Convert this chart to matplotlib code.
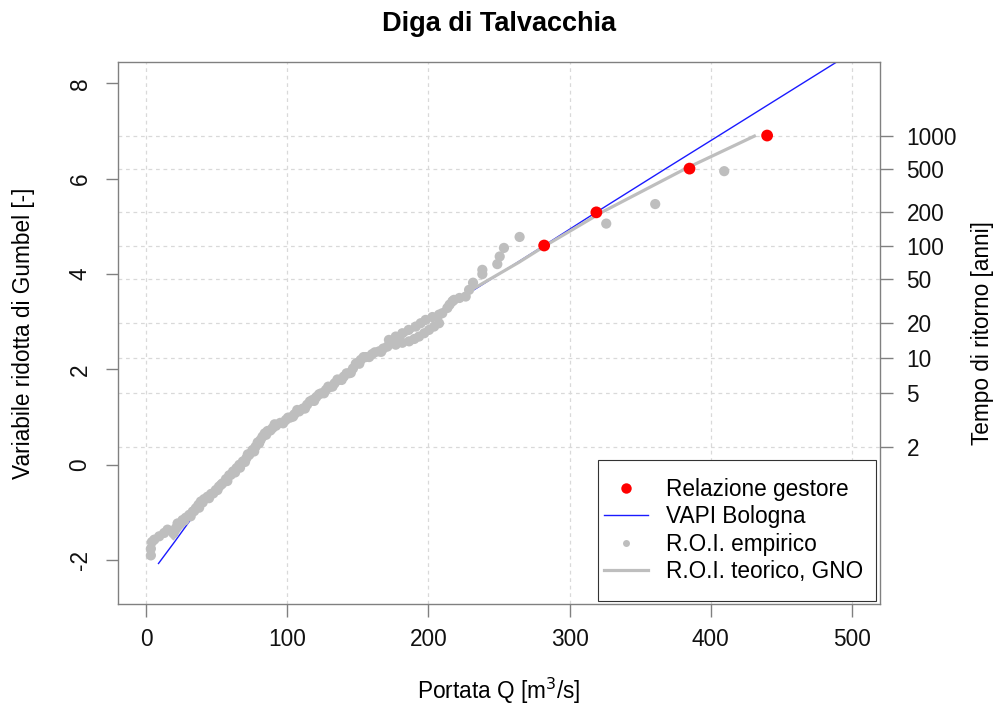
import numpy as np
import matplotlib
matplotlib.use("Agg")
import matplotlib.pyplot as plt
from matplotlib.lines import Line2D
from matplotlib.patches import Rectangle

plt.rcParams['font.family'] = ['Liberation Sans', 'DejaVu Sans']
plt.rcParams['axes.unicode_minus'] = False

# Portate di progetto della relazione del gestore, per tempo di ritorno [anni]
T_gestore = [100, 200, 500, 1000]
Q_gestore = [282, 319, 385, 440]

# Curva di crescita VAPI Bologna: portata [m3/s] e variabile ridotta di Gumbel
Q_vapi = [8.7, 20.0, 30.5, 41.0, 55.0, 70.0, 85.0, 100.0, 117.6, 135.0, 150.0,
          170.0, 200.0, 236.0, 282.0, 319.0, 368.0, 406.0, 492.0]
y_vapi = [-2.07, -1.62, -1.19, -0.78, -0.30, 0.15, 0.58, 1.00, 1.40, 1.80, 2.12,
          2.54, 3.08, 3.74, 4.60, 5.30, 6.21, 6.91, 8.50]

# Curva teorica R.O.I. (distribuzione GNO)
Q_gno = [18.6, 30.0, 45.0, 66.0, 85.0, 100.0, 120.0, 140.0, 160.0, 180.0,
         200.0, 215.0, 228.8, 264.2, 283.0, 323.0, 382.0, 432.0]
y_gno = [-1.57, -1.10, -0.62, 0.00, 0.62, 0.96, 1.42, 1.85, 2.30, 2.66,
         3.02, 3.30, 3.64, 4.25, 4.60, 5.30, 6.21, 6.91]

# Campione empirico R.O.I.: portata e variabile ridotta (posizione di plotting)
Q_emp = [3.3, 3.3, 4.0, 5.7, 9.2, 12.7, 15.1,
         19.3, 21.0, 22.2, 25.7, 28.0, 30.5, 33.0, 35.2, 37.0, 38.7, 41.0, 43.4,
         46.0, 49.3, 51.5, 54.0, 56.5, 58.8, 61.5, 64.0, 66.0, 68.5, 71.0, 73.0,
         75.3, 77.5, 80.0, 82.4, 84.0, 86.0, 89.5, 92.0, 95.0, 98.9, 102.0, 105.0,
         108.4, 111.0, 114.0, 117.8, 120.5, 124.0, 127.3, 130.0, 133.5, 136.7,
         140.0, 143.8, 146.5, 149.7, 152.0, 155.6, 160.0, 165.0, 168.0,
         170.9, 172.0, 176.8, 176.8, 181.5, 181.5, 186.0, 186.3, 190.0, 191.0,
         193.3, 194.5, 197.0, 198.0, 200.4, 202.8, 204.0, 207.5, 207.5, 209.8,
         213.4, 215.0, 217.0, 218.1, 222.0, 226.4, 228.8, 231.6, 238.2, 238.2,
         248.8, 250.5, 253.5, 264.6, 326.0, 360.7, 409.6,
         24.0, 27.0, 31.5, 34.0, 37.5, 40.0, 44.5, 47.5, 50.5, 53.0, 57.5,
         60.0, 63.0, 66.5, 70.0, 72.0, 76.5, 79.0, 81.0, 85.0, 88.0, 91.0,
         97.0, 100.5, 104.0, 107.0, 112.5, 116.0, 119.0, 122.5, 126.0, 129.0,
         132.0, 135.5, 138.5, 142.0, 145.0, 148.5, 151.0, 154.0, 158.0, 162.0,
         166.5]
y_emp = [-1.90, -1.76, -1.62, -1.57, -1.50, -1.43, -1.36,
         -1.44, -1.33, -1.23, -1.16, -1.11, -1.05, -0.98, -0.91, -0.84, -0.77, -0.72, -0.67,
         -0.61, -0.53, -0.46, -0.39, -0.30, -0.22, -0.14, -0.07, 0.00, 0.07, 0.14, 0.21,
         0.31, 0.38, 0.45, 0.59, 0.66, 0.71, 0.77, 0.82, 0.88, 0.94, 0.99, 1.06,
         1.12, 1.18, 1.26, 1.36, 1.42, 1.50, 1.57, 1.63, 1.71, 1.78,
         1.85, 1.92, 2.02, 2.14, 2.20, 2.26, 2.32, 2.38, 2.44,
         2.48, 2.62, 2.52, 2.69, 2.56, 2.76, 2.83, 2.59, 2.64, 2.90,
         2.69, 2.97, 2.76, 3.04, 2.83, 3.10, 2.90, 2.97, 3.15, 3.18,
         3.29, 3.36, 3.43, 3.46, 3.50, 3.53, 3.67, 3.82, 4.00, 4.09,
         4.21, 4.37, 4.55, 4.78, 5.06, 5.47, 6.16,
         -1.24, -1.17, -1.08, -0.97, -0.90, -0.79, -0.70, -0.60, -0.53, -0.42, -0.34,
         -0.21, -0.16, -0.06, 0.06, 0.22, 0.28, 0.47, 0.52, 0.63, 0.72, 0.85,
         0.87, 0.99, 1.01, 1.15, 1.18, 1.33, 1.34, 1.48, 1.50, 1.64,
         1.64, 1.79, 1.78, 1.92, 1.93, 2.12, 2.12, 2.26, 2.26, 2.36,
         2.37]

T_ticks = [2, 5, 10, 20, 50, 100, 200, 500, 1000]
x_ticks = [0, 100, 200, 300, 400, 500]
y_ticks = [-2, 0, 2, 4, 6, 8]


def gumbel(T):
    T = np.asarray(T, dtype=float)
    return -np.log(-np.log(1.0 - 1.0 / T))


FS = 16.3
AX_COL = '#808080'
GRID_COL = '#d9d9d9'
GREY = '#bebebe'
BLUE = '#1a1aff'
RED = '#ff0000'

fig = plt.figure(figsize=(9.94, 7.10), dpi=100)
ax = fig.add_axes([118 / 994, 1 - 604 / 710, 762 / 994, 542 / 710])
ax.set_xlim(-20, 520)
ax.set_ylim(-2.92, 8.45)

# griglia: verticali sulle portate, orizzontali sui tempi di ritorno
for xv in x_ticks:
    ax.axvline(xv, color=GRID_COL, lw=0.9, ls=(0, (3, 3)), zorder=1)
for yv in gumbel(T_ticks):
    ax.axhline(yv, color=GRID_COL, lw=0.9, ls=(0, (3, 3)), zorder=1)

ax.plot(Q_vapi, y_vapi, color=BLUE, lw=1.0, zorder=2)
ax.plot(Q_gno, y_gno, color=GREY, lw=2.3, zorder=3, solid_capstyle='butt')
ax.scatter(Q_emp, y_emp, s=54, color=GREY, edgecolors='none', zorder=4)
ax.scatter(Q_gestore, gumbel(T_gestore), s=72, color=RED,
           edgecolors='none', zorder=5)

for sp in ax.spines.values():
    sp.set_color(AX_COL)
    sp.set_linewidth(1.0)

ax.set_xticks(x_ticks)
ax.set_yticks(y_ticks)
ax.tick_params(axis='both', length=9, width=1.0, color=AX_COL,
               labelsize=FS, labelcolor='#111111')
ax.tick_params(axis='x', pad=8)
ax.tick_params(axis='y', pad=10)
for lbl in ax.get_yticklabels():
    lbl.set_rotation(90)
    lbl.set_va('center')

ax.set_xlabel('Portata Q [m$^3$/s]', fontsize=FS, labelpad=18)
ax.set_ylabel('Variabile ridotta di Gumbel [-]', fontsize=FS, labelpad=24)

ax2 = ax.twinx()
ax2.set_ylim(ax.get_ylim())
ax2.set_yticks(gumbel(T_ticks))
ax2.set_yticklabels([str(t) for t in T_ticks])
ax2.tick_params(axis='y', length=9, width=1.0, color=AX_COL,
                labelsize=FS, labelcolor='#111111', pad=10)
for sp in ax2.spines.values():
    sp.set_visible(False)
ax2.set_ylabel('Tempo di ritorno [anni]', fontsize=FS, rotation=90, labelpad=10)

fig.suptitle('Diga di Talvacchia', fontsize=FS * 1.2, fontweight='bold',
             x=499 / 994, y=0.985)

handles = [
    Line2D([], [], ls='none', marker='o', ms=7.5, color=RED, mec='none'),
    Line2D([], [], color=BLUE, lw=1.0),
    Line2D([], [], ls='none', marker='o', ms=5.0, color=GREY, mec='none'),
    Line2D([], [], color=GREY, lw=2.3),
]
labels = ['Relazione gestore', 'VAPI Bologna', 'R.O.I. empirico',
          'R.O.I. teorico, GNO']
leg = ax2.legend(handles, labels, loc='lower right', fontsize=FS, frameon=False,
                 bbox_to_anchor=(869 / 994, 1 - 589 / 710),
                 bbox_transform=fig.transFigure, borderaxespad=0.0,
                 handlelength=1.95, handletextpad=0.8, labelspacing=0.2,
                 borderpad=0.25)
leg.set_zorder(10)

# cornice della legenda, con margine verticale più ampio
fig.canvas.draw()
bb = leg.get_window_extent()
pad_x_right, pad_y = 7, 12
x0, y0 = bb.x0, bb.y0 - pad_y
x1, y1 = bb.x1 + pad_x_right, bb.y1 + pad_y
inv = fig.transFigure.inverted()
(fx0, fy0), (fx1, fy1) = inv.transform([(x0, y0), (x1, y1)])
frame = Rectangle((fx0, fy0), fx1 - fx0, fy1 - fy0, transform=fig.transFigure,
                  facecolor='white', edgecolor='#333333', lw=0.8, zorder=9,
                  clip_on=False)
ax2.add_patch(frame)

fig.savefig('out.png', dpi=100)
